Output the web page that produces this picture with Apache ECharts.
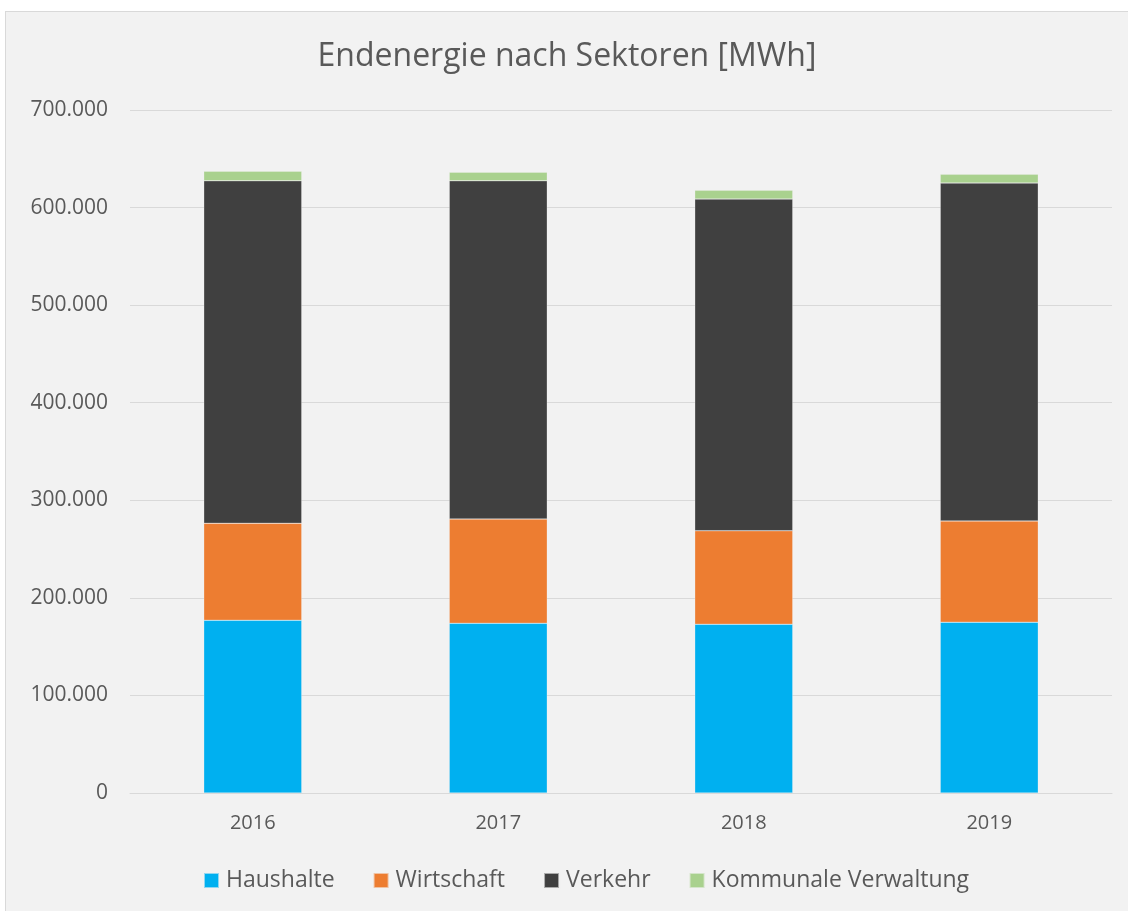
<!DOCTYPE html>
<html>
<head>
<meta charset="utf-8">
<script src="https://cdn.jsdelivr.net/npm/echarts@6/dist/echarts.min.js"></script>
<style>
  html, body { margin: 0; padding: 0; background: #fff; }
  #main {
    position: absolute;
    left: 5px;
    top: 11px;
    width: 1123px;
    height: 900px;
    background: #f2f2f2;
    border-left: 1px solid #d9d9d9;
    border-top: 1px solid #d9d9d9;
    box-sizing: border-box;
  }
</style>
</head>
<body>
<div id="main"></div>
<script>
// Jahre
const years = ['2016', '2017', '2018', '2019']
// Werte in MWh
const haushalte = [177000, 173900, 172900, 175000]
const wirtschaft = [99400, 106900, 95900, 103800]
const verkehr = [351100, 346700, 340000, 346400]
const kommunal = [9700, 8700, 8900, 8900]

const seriesNames = ['Haushalte', 'Wirtschaft', 'Verkehr', 'Kommunale Verwaltung']
const seriesColors = ['#00b0f0', '#ed7d31', '#404040', '#a9d18e']
const seriesData = [haushalte, wirtschaft, verkehr, kommunal]

const fontFam = '"Open Sans", "Noto Sans", sans-serif'

// Tausenderpunkt
let fmt = (val) => {
  if (!val) { return '0' }
  return String(val).replace(/\B(?=(\d{3})+(?!\d))/g, '.')
}

let chart = echarts.init(document.getElementById('main'))
let option = {
  animation: false,
  title: {
    text: 'Endenergie nach Sektoren [MWh]',
    left: 'center',
    top: 24,
    textStyle: {
      color: '#595959',
      fontFamily: fontFam,
      fontWeight: 'normal',
      fontSize: 32
    }
  },
  legend: {
    bottom: 14,
    left: 192,
    itemWidth: 15,
    itemHeight: 15,
    itemGap: 38,
    icon: 'rect',
    textStyle: {
      color: '#595959',
      fontFamily: fontFam,
      fontSize: 23,
      padding: [0, 0, 0, 2]
    },
    data: seriesNames
  },
  grid: {
    left: 124,
    right: 16,
    top: 98,
    bottom: 118
  },
  xAxis: {
    type: 'category',
    data: years,
    axisLine: { lineStyle: { color: '#d9d9d9', width: 1 } },
    axisTick: { show: false },
    axisLabel: {
      color: '#595959',
      fontFamily: fontFam,
      fontSize: 20,
      margin: 20
    }
  },
  yAxis: {
    type: 'value',
    min: 0,
    max: 700000,
    interval: 100000,
    axisLine: { show: false },
    axisTick: { show: false },
    axisLabel: {
      color: '#595959',
      fontFamily: fontFam,
      fontSize: 21,
      margin: 22,
      formatter: fmt
    },
    splitLine: { lineStyle: { color: '#d9d9d9', width: 1 } }
  },
  series: seriesNames.map((name, i) => ({
    name: name,
    type: 'bar',
    stack: 'total',
    barWidth: 98,
    data: seriesData[i],
    itemStyle: {
      color: seriesColors[i],
      borderColor: 'rgba(242,242,242,0.6)',
      borderWidth: 0.5
    }
  }))
}
chart.setOption(option)
</script>
</body>
</html>
